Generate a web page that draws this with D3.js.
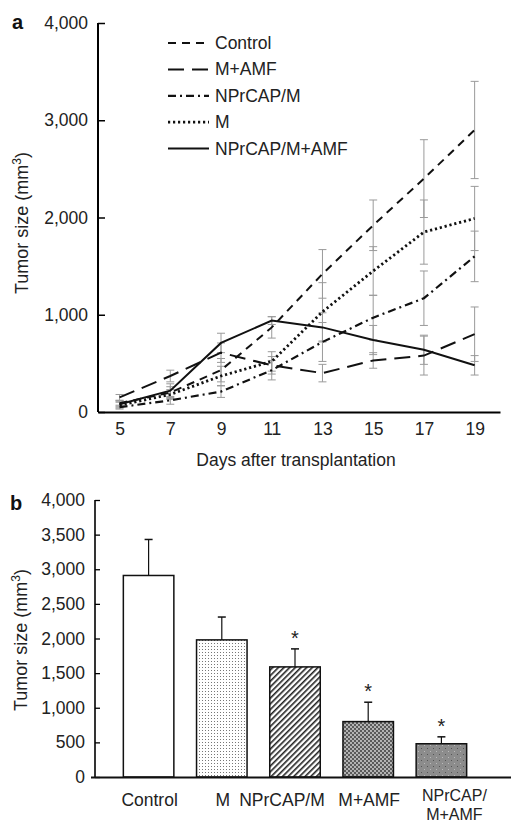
<!DOCTYPE html>
<html>
<head>
<meta charset="utf-8">
<script src="https://cdn.jsdelivr.net/npm/d3@7"></script>
<style>
  body { margin: 0; background: #fff; }
  svg { font-family: "Liberation Sans", Arial, sans-serif; }
</style>
</head>
<body>
<svg id="chart" width="511" height="824"></svg>
<script>
// panel a data
var days = [5, 7, 9, 11, 13, 15, 17, 19];
var seriesNames = ["Control", "M+AMF", "NPrCAP/M", "M", "NPrCAP/M+AMF"];
var controlVals = [90, 200, 430, 870, 1420, 1920, 2400, 2900];
var controlErr  = [30, 60, 120, 110, 250, 260, 400, 500];
var mamfVals    = [150, 370, 610, 480, 400, 530, 580, 800];
var mamfErr     = [30, 60, 100, 90, 90, 80, 200, 280];
var npmVals     = [50, 120, 210, 430, 720, 970, 1170, 1600];
var npmErr      = [20, 40, 60, 100, 200, 230, 280, 260];
var mVals       = [70, 180, 370, 520, 1030, 1450, 1850, 1990];
var mErr        = [30, 50, 100, 100, 300, 250, 330, 330];
var npmamfVals  = [80, 220, 710, 940, 870, 740, 640, 480];
var npmamfErr   = [30, 70, 100, 40, 150, 150, 150, 100];
var yTicksA = [0, 1000, 2000, 3000, 4000];

// panel b data
var barCats = ["Control", "M", "NPrCAP/M", "M+AMF", "NPrCAP/M+AMF"];
var barVals = [2910, 1980, 1590, 800, 480];
var barErr  = [520, 330, 260, 280, 100];
var barSig  = [false, false, true, true, true];
var yTicksB = [0, 500, 1000, 1500, 2000, 2500, 3000, 3500, 4000];

var fmt = d3.format(",");
var FS = 17.5;
var svg = d3.select("#chart");

// patterns for bars
var defs = svg.append("defs");
var p1 = defs.append("pattern").attr("id", "dots").attr("patternUnits", "userSpaceOnUse")
  .attr("width", 3).attr("height", 3);
p1.append("rect").attr("width", 3).attr("height", 3).attr("fill", "#fff");
p1.append("rect").attr("x", 1).attr("y", 1).attr("width", 1).attr("height", 1).attr("fill", "#777");

var p2 = defs.append("pattern").attr("id", "hatch").attr("patternUnits", "userSpaceOnUse")
  .attr("width", 4).attr("height", 4).attr("patternTransform", "rotate(45)");
p2.append("rect").attr("width", 4).attr("height", 4).attr("fill", "#fff");
p2.append("rect").attr("x", 0).attr("width", 1.6).attr("height", 4).attr("fill", "#222");

var p3 = defs.append("pattern").attr("id", "darkdots").attr("patternUnits", "userSpaceOnUse")
  .attr("width", 4).attr("height", 4);
p3.append("rect").attr("width", 4).attr("height", 4).attr("fill", "#5a5a5a");
p3.append("circle").attr("cx", 1).attr("cy", 1).attr("r", 0.9).attr("fill", "#ddd");
p3.append("circle").attr("cx", 3).attr("cy", 3).attr("r", 0.9).attr("fill", "#ddd");

var p4 = defs.append("pattern").attr("id", "speckle").attr("patternUnits", "userSpaceOnUse")
  .attr("width", 6).attr("height", 6);
p4.append("rect").attr("width", 6).attr("height", 6).attr("fill", "#8c8c8c");
p4.append("rect").attr("x", 1).attr("y", 4).attr("width", 1).attr("height", 1).attr("fill", "#555");
p4.append("rect").attr("x", 4).attr("y", 1).attr("width", 1).attr("height", 1).attr("fill", "#bbb");
var barFills = ["#fff", "url(#dots)", "url(#hatch)", "url(#darkdots)", "url(#speckle)"];

// ---------- panel a ----------
var xA = d3.scaleLinear().domain([4.15, 20]).range([98, 500]);
var yA = d3.scaleLinear().domain([0, 4000]).range([412, 23]);

var series = [
  {name: "Control", vals: controlVals, err: controlErr, dash: "8,6", width: 2},
  {name: "M+AMF", vals: mamfVals, err: mamfErr, dash: "16,8", width: 2},
  {name: "NPrCAP/M", vals: npmVals, err: npmErr, dash: "8,4,2,4", width: 2.2},
  {name: "M", vals: mVals, err: mErr, dash: "2.2,2.8", width: 2.8},
  {name: "NPrCAP/M+AMF", vals: npmamfVals, err: npmamfErr, dash: null, width: 2}
];

var gA = svg.append("g");

// error bars (grey)
series.forEach(function(s){
  var eb = gA.append("g").attr("stroke", "#9a9a9a").attr("stroke-width", 1);
  days.forEach(function(d, i){
    var x = xA(d), top = yA(s.vals[i] + s.err[i]), bot = yA(Math.max(0, s.vals[i] - s.err[i]));
    eb.append("line").attr("x1", x).attr("x2", x).attr("y1", top).attr("y2", bot);
    eb.append("line").attr("x1", x - 4).attr("x2", x + 4).attr("y1", top).attr("y2", top);
    eb.append("line").attr("x1", x - 4).attr("x2", x + 4).attr("y1", bot).attr("y2", bot);
  });
});

var line = d3.line()
  .x(function(d){ return xA(d[0]); })
  .y(function(d){ return yA(d[1]); });

series.forEach(function(s){
  gA.append("path")
    .datum(days.map(function(d, i){ return [d, s.vals[i]]; }))
    .attr("d", line)
    .attr("fill", "none")
    .attr("stroke", "#111")
    .attr("stroke-width", s.width)
    .attr("stroke-dasharray", s.dash);
});

// axes
var axA = gA.append("g").attr("transform", "translate(98,0)")
  .call(d3.axisLeft(yA).tickValues(yTicksA).tickFormat(fmt).tickSize(-7).tickPadding(10));
axA.select(".domain").attr("stroke-width", 2).attr("d", "M0," + yA(0) + "V" + yA(4000));
axA.selectAll(".tick line").attr("stroke-width", 1.5);
axA.selectAll("text").attr("font-size", FS).attr("fill", "#222");

var axAx = gA.append("g").attr("transform", "translate(0,412)")
  .call(d3.axisBottom(xA).tickValues(days).tickSize(0).tickPadding(11));
axAx.select(".domain").attr("stroke-width", 2.2);
axAx.selectAll("text").attr("font-size", FS).attr("fill", "#222");

gA.append("text").attr("x", 296).attr("y", 466).attr("text-anchor", "middle")
  .attr("font-size", FS).attr("fill", "#222").text("Days after transplantation");

var ttA = gA.append("text").attr("transform", "translate(28,223) rotate(-90)")
  .attr("text-anchor", "middle").attr("font-size", 18).attr("fill", "#222");
ttA.append("tspan").text("Tumor size (mm");
ttA.append("tspan").attr("dy", -7).attr("font-size", 12).text("3");
ttA.append("tspan").attr("dy", 7).text(")");

gA.append("text").attr("x", 12).attr("y", 28.5).attr("font-size", 20).attr("font-weight", "bold")
  .attr("fill", "#111").text("a");

// legend
var leg = gA.append("g");
series.forEach(function(s, i){
  var y = 43 + i * 26.4;
  leg.append("line").attr("x1", 168).attr("x2", 209).attr("y1", y).attr("y2", y)
    .attr("stroke", "#111").attr("stroke-width", s.width).attr("stroke-dasharray", s.dash);
  leg.append("text").attr("x", 215).attr("y", y + 6).attr("font-size", FS).attr("fill", "#222").text(s.name);
});

// ---------- panel b ----------
var xB = d3.scaleBand().domain(barCats).range([112, 478]).paddingInner(0.31).paddingOuter(0.155);
var yB = d3.scaleLinear().domain([0, 4000]).range([777, 500]);
var gB = svg.append("g");

gB.selectAll("rect.bar").data(barCats).enter().append("rect")
  .attr("class", "bar")
  .attr("x", function(d){ return xB(d); })
  .attr("y", function(d, i){ return yB(barVals[i]); })
  .attr("width", xB.bandwidth())
  .attr("height", function(d, i){ return yB(0) - yB(barVals[i]); })
  .attr("fill", function(d, i){ return barFills[i]; })
  .attr("stroke", "#111").attr("stroke-width", 1.5);

barCats.forEach(function(c, i){
  var cx = xB(c) + xB.bandwidth() / 2;
  var top = yB(barVals[i] + barErr[i]);
  gB.append("line").attr("x1", cx).attr("x2", cx).attr("y1", yB(barVals[i])).attr("y2", top)
    .attr("stroke", "#111").attr("stroke-width", 1.2);
  gB.append("line").attr("x1", cx - 4).attr("x2", cx + 4).attr("y1", top).attr("y2", top)
    .attr("stroke", "#111").attr("stroke-width", 1.5);
  if (barSig[i]) {
    gB.append("text").attr("x", cx).attr("y", top - 4).attr("text-anchor", "middle")
      .attr("font-size", 20).attr("fill", "#222").text("*");
  }
});

var axB = gB.append("g").attr("transform", "translate(95,0)")
  .call(d3.axisLeft(yB).tickValues(yTicksB).tickFormat(fmt).tickSize(-5).tickPadding(10));
axB.select(".domain").attr("stroke-width", 1.6).attr("d", "M0," + yB(0) + "V" + yB(4000));
axB.selectAll(".tick line").attr("stroke-width", 1.3);
axB.selectAll("text").attr("font-size", FS).attr("fill", "#222");

gB.append("line").attr("x1", 91).attr("x2", 511).attr("y1", 777.5).attr("y2", 777.5)
  .attr("stroke", "#111").attr("stroke-width", 1.8);

// category labels
var labB = gB.append("g").attr("font-size", FS).attr("fill", "#222").attr("text-anchor", "middle");
barCats.forEach(function(c, i){
  var cx = xB(c) + xB.bandwidth() / 2;
  if (c === "NPrCAP/M+AMF") {
    labB.append("text").attr("x", cx + 13).attr("y", 801).attr("font-size", 16).text("NPrCAP/");
    labB.append("text").attr("x", cx + 13).attr("y", 820).attr("font-size", 16).text("M+AMF");
  } else if (c === "NPrCAP/M") {
    labB.append("text").attr("x", cx - 13).attr("y", 806).text(c);
  } else {
    labB.append("text").attr("x", cx + 1).attr("y", 806).text(c);
  }
});

var ttB = gB.append("text").attr("transform", "translate(27,640) rotate(-90)")
  .attr("text-anchor", "middle").attr("font-size", 18).attr("fill", "#222");
ttB.append("tspan").text("Tumor size (mm");
ttB.append("tspan").attr("dy", -7).attr("font-size", 12).text("3");
ttB.append("tspan").attr("dy", 7).text(")");

gB.append("text").attr("x", 10).attr("y", 510).attr("font-size", 20).attr("font-weight", "bold")
  .attr("fill", "#111").text("b");
</script>
</body>
</html>
